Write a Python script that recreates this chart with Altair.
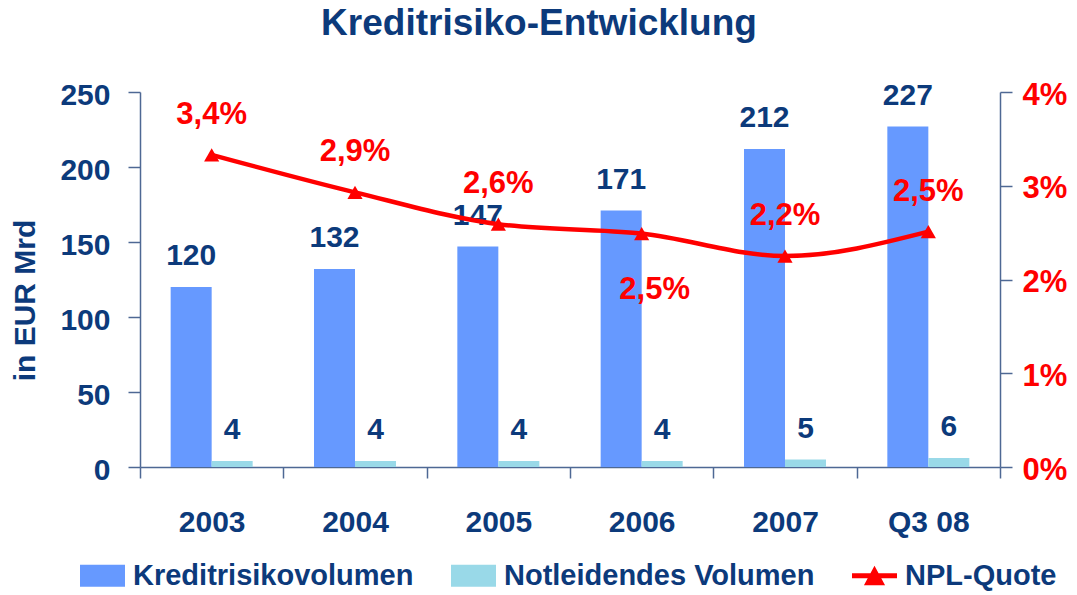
import altair as alt
import pandas as pd

# ---- data ----
categories = ["2003", "2004", "2005", "2006", "2007", "Q3 08"]
kredit = [120, 132, 147, 171, 212, 227]
notleidend = [4, 4, 4, 4, 5, 6]
npl = [3.33, 2.93, 2.59, 2.49, 2.25, 2.51]
npl_labels = ["3,4%", "2,9%", "2,6%", "2,5%", "2,2%", "2,5%"]
series = ["Kreditrisikovolumen", "Notleidendes Volumen", "NPL-Quote"]
colors = ["#6699FF", "#99D9E8", "#FF0000"]
left_ticks = [0, 50, 100, 150, 200, 250]
right_ticks = [0, 1, 2, 3, 4]

NAVY = "#0C3A7B"
AX = "#4E6894"
RED = "#FF0000"
FONT = "Liberation Sans"

bars_df = pd.DataFrame({
    "cat": categories * 2,
    "series": [series[0]] * len(categories) + [series[1]] * len(categories),
    "value": kredit + notleidend,
})
line_df = pd.DataFrame({"cat": categories, "npl": npl, "label": npl_labels})
legend_df = pd.DataFrame({"series": series})

x_enc = alt.X(
    "cat:N", sort=categories,
    scale=alt.Scale(domain=categories, paddingInner=0, paddingOuter=0),
    axis=alt.Axis(title=None, tickBand="extent", labelAngle=0, labelFont=FONT,
                  labelFontSize=30, labelFontWeight="bold", labelColor=NAVY,
                  labelPadding=29, tickSize=11, domainColor=AX, tickColor=AX,
                  domainWidth=1.5, tickWidth=1.5, labelBaseline="top"),
)

y_left = alt.Y(
    "value:Q",
    scale=alt.Scale(domain=[0, 250], nice=False, zero=True),
    axis=alt.Axis(values=left_ticks, title="in EUR Mrd", grid=False,
                  titleFont=FONT, titleFontSize=30, titleFontWeight="bold",
                  titleColor=NAVY, titleX=-115, titleY=208, titleAngle=-90,
                  titleAlign="center", titleBaseline="middle",
                  labelFont=FONT, labelFontSize=30, labelFontWeight="bold",
                  labelColor=NAVY, labelPadding=18, tickSize=12, labelOffset=3,
                  domainColor=AX, tickColor=AX, domainWidth=1.5, tickWidth=1.5),
)

y_right = alt.Y(
    "npl:Q",
    scale=alt.Scale(domain=[0, 4], nice=False, zero=True),
    axis=alt.Axis(orient="right", values=right_ticks, title=None, grid=False,
                  labelExpr="datum.value + '%'",
                  labelFont=FONT, labelFontSize=31, labelFontWeight="bold",
                  labelColor=RED, labelPadding=10, tickSize=12, labelOffset=3,
                  domainColor=AX, tickColor=AX, domainWidth=1.5, tickWidth=1.5),
)

xoff = alt.XOffset("series:N",
                   scale=alt.Scale(domain=series[:2], paddingInner=0, paddingOuter=0.748))

bars = alt.Chart(bars_df).mark_bar().encode(
    x=x_enc, y=y_left, xOffset=xoff,
    color=alt.Color("series:N", scale=alt.Scale(domain=series[:2], range=colors[:2]), legend=None),
)
bar_text = alt.Chart(bars_df).mark_text(
    dy=-31, font=FONT, fontSize=30, fontWeight="bold", color=NAVY, baseline="middle"
).encode(x=x_enc, y=y_left, xOffset=xoff, text="value:Q")

bar_group = alt.layer(bars, bar_text)

line = alt.Chart(line_df).mark_line(color=RED, strokeWidth=4.5, interpolate="monotone").encode(
    x=x_enc, y=y_right)
pts = alt.Chart(line_df).mark_point(shape="triangle-up", filled=True, size=230, color=RED, opacity=1).encode(
    x=x_enc, y=y_right)
pct_above = alt.Chart(line_df).transform_filter("datum.cat != '2006'").mark_text(
    dy=-40, font=FONT, fontSize=31, fontWeight="bold", color=RED, baseline="middle"
).encode(x=x_enc, y=y_right, text="label:N")
pct_below = alt.Chart(line_df).transform_filter("datum.cat == '2006'").mark_text(
    dx=13, dy=56, font=FONT, fontSize=31, fontWeight="bold", color=RED, baseline="middle"
).encode(x=x_enc, y=y_right, text="label:N")

line_group = alt.layer(line, pts, pct_above, pct_below)

bar_sym = "M-1,-0.49H1V0.49H-1Z"
line_sym = "M-1,-0.11H1V0.11H-1Z M-0.47,0.42L0,-0.45L0.47,0.42Z"
leg = alt.Legend(orient="none", legendX=-60, legendY=461, direction="horizontal",
                 title=None, labelFont=FONT, labelFontSize=29, labelFontWeight="bold",
                 labelColor=NAVY, symbolSize=2025, symbolStrokeWidth=0, labelOffset=8,
                 columnPadding=37, padding=0, labelLimit=0, symbolOpacity=1)
legend_layer = alt.Chart(legend_df).transform_filter("false").mark_point(filled=True).encode(
    color=alt.Color("series:N", scale=alt.Scale(domain=series, range=colors), legend=leg),
    shape=alt.Shape("series:N", scale=alt.Scale(domain=series, range=[bar_sym, bar_sym, line_sym]), legend=leg),
)

chart = alt.layer(bar_group, line_group, legend_layer).resolve_scale(
    y="independent", color="independent", shape="independent"
).properties(
    width=860, height=375,
    padding={"left": 132, "top": 84, "right": 68, "bottom": 125},
    autosize=alt.AutoSizeParams(type="none"),
    title=alt.Title("Kreditrisiko-Entwicklung", font=FONT, fontSize=37, fontWeight="bold",
                    color=NAVY, anchor="middle", dx=-31, offset=36),
).configure_view(stroke=None)

chart.save("out.html", embed_options={"renderer": "svg", "actions": False})
